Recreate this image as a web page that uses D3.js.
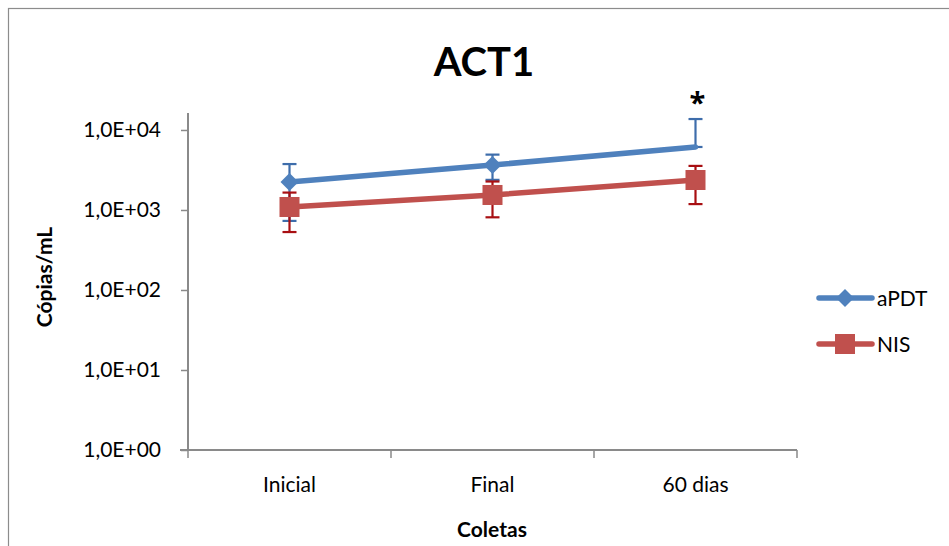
<!DOCTYPE html>
<html>
<head>
<meta charset="utf-8">
<script src="https://cdn.jsdelivr.net/npm/d3@7"></script>
<style>
  html, body { margin: 0; padding: 0; background: #fff; }
  svg { display: block; font-family: Lato, "Open Sans", sans-serif; }
</style>
</head>
<body>
<svg id="chart" width="949" height="546"></svg>
<script>
// Copies/mL per collection time, two treatment groups (mean ± SD)
const categories = ["Inicial", "Final", "60 dias"];
const seriesNames = ["aPDT", "NIS"];
const apdtValues = [2240, 3650, 6130];
const apdtSD = [1510, 1270, 7570];
const nisValues = [1090, 1540, 2370];
const nisSD = [560, 730, 1185];
const yTickValues = [1, 10, 100, 1000, 10000];
const yTickLabels = ["1,0E+00", "1,0E+01", "1,0E+02", "1,0E+03", "1,0E+04"];
const yMax = 16300;
const significance = ["", "", "*"]; // aPDT markers flagged above the bar

const series = [
  { name: seriesNames[0], values: apdtValues, sd: apdtSD, color: "#4F81BD", err: "#3E6DAB", marker: "diamond", showMarker: [true, true, false] },
  { name: seriesNames[1], values: nisValues, sd: nisSD, color: "#C0504D", err: "#A80F12", marker: "square", showMarker: [true, true, true] }
];

const svg = d3.select("#chart");
const plot = { left: 188, right: 797, top: 113, bottom: 450 };

// outer chart frame
svg.append("rect")
  .attr("x", 8.5).attr("y", 8.5).attr("width", 960).attr("height", 560)
  .attr("fill", "none").attr("stroke", "#8c8c8c").attr("stroke-width", 1.2);

const x = d3.scaleBand().domain(categories).range([plot.left, plot.right]);
const y = d3.scaleLog().domain([1, yMax]).range([plot.bottom, plot.top]);

const axisColor = "#8a8a8a";

// y axis
const yAxis = svg.append("g")
  .attr("transform", `translate(${plot.left},0)`)
  .call(d3.axisLeft(y).tickValues(yTickValues)
    .tickFormat((d, i) => yTickLabels[i]).tickSize(7).tickPadding(20));
yAxis.select(".domain").attr("stroke", axisColor).attr("stroke-width", 2)
  .attr("d", `M0,${plot.bottom}V${plot.top}`);
yAxis.selectAll(".tick line").attr("stroke", axisColor).attr("stroke-width", 1.5);
yAxis.selectAll(".tick text").attr("fill", "#000").attr("font-size", 21)
  .attr("font-family", "Lato, sans-serif");

// x axis with boundary ticks between categories
const xAxisG = svg.append("g").attr("transform", `translate(0,${plot.bottom})`);
xAxisG.append("line")
  .attr("x1", plot.left - 8).attr("x2", plot.right)
  .attr("stroke", axisColor).attr("stroke-width", 2);
const boundaries = categories.map(c => x(c)).concat([x(categories[categories.length - 1]) + x.bandwidth()]);
xAxisG.selectAll("line.tk").data(boundaries).join("line")
  .attr("class", "tk")
  .attr("x1", d => d).attr("x2", d => d).attr("y1", 0).attr("y2", 8)
  .attr("stroke", axisColor).attr("stroke-width", 1.5);
xAxisG.selectAll("text").data(categories).join("text")
  .attr("x", d => x(d) + x.bandwidth() / 2)
  .attr("y", 42)
  .attr("text-anchor", "middle")
  .attr("font-size", 21)
  .attr("fill", "#000")
  .text(d => d);

// titles
svg.append("text").attr("x", 484).attr("y", 76).attr("text-anchor", "middle")
  .attr("font-size", 40).attr("font-weight", "bold").text("ACT1");
svg.append("text").attr("x", 492).attr("y", 537).attr("text-anchor", "middle")
  .attr("font-size", 21).attr("font-weight", "bold").text("Coletas");
svg.append("text")
  .attr("transform", "translate(52,277) rotate(-90)")
  .attr("text-anchor", "middle")
  .attr("font-size", 21).attr("font-weight", "bold").text("Cópias/mL");

const cx = c => x(c) + x.bandwidth() / 2;
const capW = 7;

// error bars
series.forEach(s => {
  const g = svg.append("g").attr("stroke", s.err).attr("stroke-width", 2.2);
  categories.forEach((c, i) => {
    const v = s.values[i], hi = v + s.sd[i], lo = v - s.sd[i];
    const yHi = y(hi), yLo = lo > 0 ? y(lo) : y(v);
    g.append("line").attr("x1", cx(c)).attr("x2", cx(c)).attr("y1", yHi).attr("y2", yLo);
    g.append("line").attr("x1", cx(c) - capW).attr("x2", cx(c) + capW).attr("y1", yHi).attr("y2", yHi);
    g.append("line").attr("x1", cx(c) - capW).attr("x2", cx(c) + capW).attr("y1", yLo).attr("y2", yLo);
  });
});

const line = d3.line().x((d, i) => cx(categories[i])).y(d => y(d));

function drawMarker(g, kind, px, py, color) {
  if (kind === "diamond") {
    g.append("path")
      .attr("d", `M${px},${py - 9}L${px + 9},${py}L${px},${py + 9}L${px - 9},${py}Z`)
      .attr("fill", color);
  } else {
    g.append("rect").attr("x", px - 10).attr("y", py - 10)
      .attr("width", 20).attr("height", 20).attr("fill", color);
  }
}

// lines and markers
series.forEach(s => {
  svg.append("path").datum(s.values)
    .attr("d", line)
    .attr("fill", "none").attr("stroke", s.color)
    .attr("stroke-width", 5.5).attr("stroke-linejoin", "round").attr("stroke-linecap", "round");
  const g = svg.append("g");
  categories.forEach((c, i) => {
    if (s.showMarker[i]) drawMarker(g, s.marker, cx(c), y(s.values[i]), s.color);
  });
});

// significance mark above the aPDT error bar
categories.forEach((c, i) => {
  if (!significance[i]) return;
  svg.append("text")
    .attr("x", cx(c) + 2)
    .attr("y", y(apdtValues[i] + apdtSD[i]) - 6)
    .attr("text-anchor", "middle")
    .attr("font-size", 29).attr("font-weight", "bold")
    .attr("font-family", "'Open Sans', sans-serif")
    .text(significance[i]);
});

// legend
const legend = svg.append("g");
series.forEach((s, i) => {
  const ly = 298 + i * 46;
  legend.append("line").attr("x1", 819).attr("x2", 872).attr("y1", ly).attr("y2", ly)
    .attr("stroke", s.color).attr("stroke-width", 5.5).attr("stroke-linecap", "round");
  drawMarker(legend, s.marker, 845, ly, s.color);
  legend.append("text").attr("x", 877).attr("y", ly + 7.5)
    .attr("font-size", 21).attr("fill", "#000").text(s.name);
});
</script>
</body>
</html>
